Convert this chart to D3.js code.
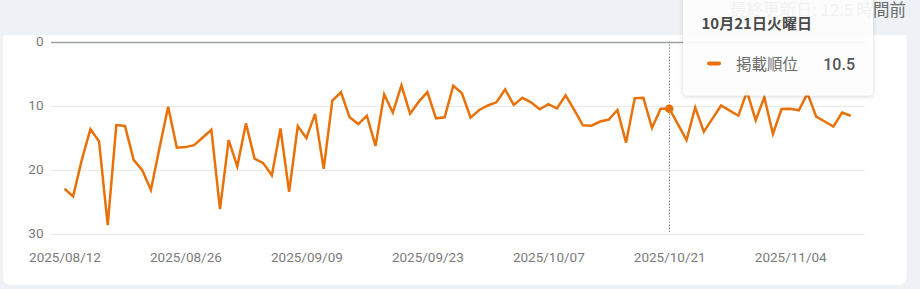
<!DOCTYPE html>
<html><head><meta charset="utf-8">
<script src="https://cdn.jsdelivr.net/npm/d3@7"></script>
<style>
html,body{margin:0;padding:0;background:#eef2f7;overflow:hidden;}
svg{display:block;}
</style></head>
<body>
<svg id="c" width="920" height="289"></svg>
<script>
const startDate = "2025-08-12";
const positions = [23.0,24.2,18.5,13.7,15.6,28.7,13.05,13.2,18.5,20.1,23.2,16.6,10.2,16.6,16.5,16.2,15.0,13.8,26.2,15.4,
19.5,12.8,18.3,19.0,20.9,13.6,23.5,13.2,15.1,11.3,19.9,9.25,7.95,11.85,12.9,11.6,16.3,8.25,11.1,6.85,
11.3,9.4,7.9,12.0,11.85,6.9,8.1,11.9,10.7,10.0,9.5,7.5,9.9,8.8,9.5,10.6,9.8,10.45,8.4,10.7,
13.1,13.15,12.5,12.2,10.7,15.8,8.85,8.8,13.5,10.5,10.5,12.9,15.4,10.3,14.1,12.05,10.0,10.8,11.6,7.8,
12.3,8.7,14.45,10.55,10.5,10.75,8.1,11.75,12.5,13.3,11.1,11.6];
const xTickLabels = ["2025/08/12","2025/08/26","2025/09/09","2025/09/23","2025/10/07","2025/10/21","2025/11/04"];
const yTicks = [0,10,20,30];
const seriesName = "掲載順位";
const hoverDate = "2025-10-21";
const hoverTitle = "10月21日火曜日";
const updatedText = "最終更新日: 12.5 時間前";

const parse = d3.timeParse("%Y-%m-%d");
const fmt = d3.timeFormat("%Y/%m/%d");
const parseTick = d3.timeParse("%Y/%m/%d");
const d0 = parse(startDate);
const data = positions.map((v,i)=>({date:d3.timeDay.offset(d0,i), value:v}));

const svg = d3.select("#c");
const orange = "#e8710a";

// card
svg.append("path")
  .attr("d","M3,35 H906.5 V277 Q906.5,285 898.5,285 H11 Q3,285 3,277 Z")
  .attr("fill","#ffffff");

const x = d3.scaleTime().domain([data[0].date, data[data.length-1].date]).range([64.5, 850.7]);
const y = d3.scaleLinear().domain([0,30]).range([41.5,233.5]);
const gx0 = 51, gx1 = 865;

// grid
const grid = svg.append("g");
grid.selectAll("line").data(yTicks).join("line")
  .attr("x1",gx0).attr("x2",gx1)
  .attr("y1",d=>Math.round(y(d))+0.5).attr("y2",d=>Math.round(y(d))+0.5)
  .attr("stroke",d=>d===0?"#9aa0a6":"#ebebeb")
  .attr("stroke-width",d=>d===0?1.3:1);

// y labels
const yAxis = d3.axisLeft(y).tickValues(yTicks).tickSize(0).tickPadding(0);
const ga = svg.append("g").attr("transform","translate(43.5,0)").call(yAxis);
ga.select(".domain").remove();
ga.selectAll("text").attr("font-family","Roboto, sans-serif").attr("font-size","13.5px").attr("fill","#7b7b7b");

// x labels
const xAxis = d3.axisBottom(x).tickValues(xTickLabels.map(parseTick)).tickFormat(fmt).tickSize(0).tickPadding(0);
const gb = svg.append("g").attr("transform","translate(0,252)").call(xAxis);
gb.select(".domain").remove();
gb.selectAll("text").attr("font-family","Roboto, sans-serif").attr("font-size","13.5px").attr("fill","#7b7b7b");

// hover vertical line
const hd = parse(hoverDate);
svg.append("line")
  .attr("x1",Math.round(x(hd))+0.5).attr("x2",Math.round(x(hd))+0.5)
  .attr("y1",y(0)).attr("y2",y(30))
  .attr("stroke","#8a8a8a").attr("stroke-width",1).attr("stroke-dasharray","1.5,1.5");

// line
svg.append("path").datum(data)
  .attr("d", d3.line().x(d=>x(d.date)).y(d=>y(d.value)))
  .attr("fill","none").attr("stroke",orange).attr("stroke-width",2.5)
  .attr("stroke-linejoin","miter").attr("stroke-miterlimit",4);

const hp = data.find(d=>+d.date===+hd);
svg.append("circle").attr("cx",x(hp.date)).attr("cy",y(hp.value)).attr("r",4.3).attr("fill",orange);

// updated text
svg.append("text").attr("x",906).attr("y",16).attr("text-anchor","end")
  .attr("font-family","'Noto Sans CJK JP', Roboto, sans-serif").attr("font-size","16.5px").attr("fill","#6b6b6b")
  .text(updatedText);

// tooltip
const defs = svg.append("defs");
const f = defs.append("filter").attr("id","sh").attr("x","-20%").attr("y","-20%").attr("width","140%").attr("height","150%");
f.append("feDropShadow").attr("dx",0).attr("dy",1).attr("stdDeviation",2).attr("flood-color","#000").attr("flood-opacity",0.18);
const tt = svg.append("g");
tt.append("rect").attr("x",683).attr("y",-8).attr("width",190).attr("height",103.5).attr("rx",4)
  .attr("fill","#ffffff").attr("fill-opacity",0.9).attr("filter","url(#sh)");
tt.append("text").attr("x",701.5).attr("y",29).attr("font-family","'Noto Sans CJK JP', sans-serif")
  .attr("font-size","15px").attr("font-weight","bold").attr("fill","#4a4a4a").text(hoverTitle);
tt.append("line").attr("x1",709).attr("x2",719).attr("y1",63.5).attr("y2",63.5)
  .attr("stroke",orange).attr("stroke-width",4).attr("stroke-linecap","round");
tt.append("text").attr("x",736).attr("y",70).attr("font-family","'Noto Sans CJK JP', sans-serif")
  .attr("font-size","15.5px").attr("fill","#6b6b6b").text(seriesName);
tt.append("text").attr("x",855).attr("y",70).attr("text-anchor","end").attr("font-family","Roboto, sans-serif")
  .attr("font-size","16px").attr("font-weight","500").attr("fill","#555").text(d3.format(".1f")(hp.value));
</script>
</body></html>
